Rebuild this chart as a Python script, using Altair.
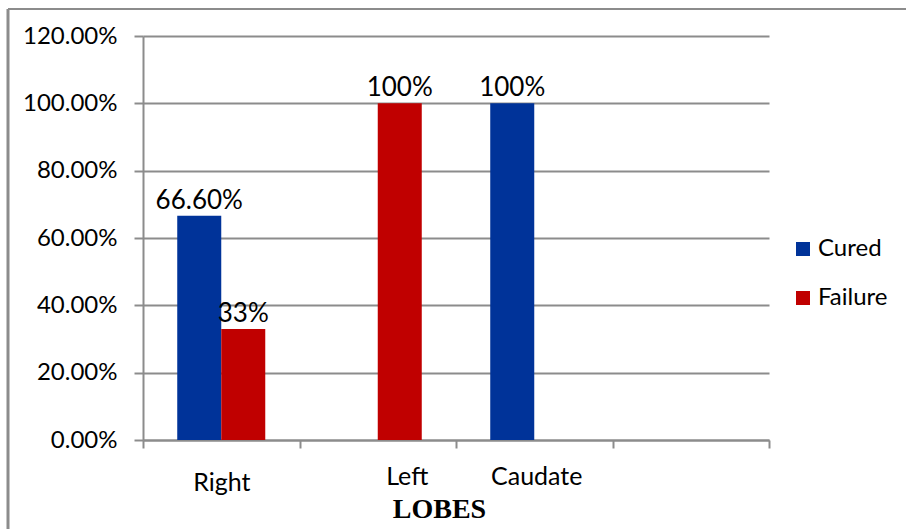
import altair as alt
import pandas as pd

# Outcome by liver lobe (percent of cases)
lobes = ["Right", "Left", "Caudate"]
cured = [66.6, 0, 100]
failure = [33, 100, 0]
cured_labels = ["66.60%", "", "100%"]
failure_labels = ["33%", "100%", ""]
series = ["Cured", "Failure"]
colors = ["#003399", "#C00000"]
y_ticks = [0, 20, 40, 60, 80, 100, 120]

rows = []
for i, lobe in enumerate(lobes):
    rows.append({"lobe": lobe, "outcome": "Cured", "pct": cured[i], "label": cured_labels[i]})
    rows.append({"lobe": lobe, "outcome": "Failure", "pct": failure[i], "label": failure_labels[i]})
df = pd.DataFrame(rows)
df = df[df["pct"] > 0]

# an extra empty slot on the right of the category axis
x_domain = lobes + [" "]

GRAY = "#8c8c8c"
FONT = "Lato"
W, H = 626, 404
PAD = {"left": 143, "top": 36, "right": 906 - 143 - W, "bottom": 529 - 36 - H}

x_enc = alt.X(
    "lobe:N",
    scale=alt.Scale(domain=x_domain, paddingInner=0, paddingOuter=0),
    sort=x_domain,
    title="LOBES",
    axis=alt.Axis(
        tickBand="extent",
        labelAngle=0,
        labelFont=FONT,
        labelFontSize=25,
        labelColor="black",
        labelBaseline="alphabetic",
        labelOffset={"condition": [
            {"test": "datum.value === 'Left'", "value": 29},
            {"test": "datum.value === 'Caudate'", "value": 2},
        ], "value": 0},
        labelPadding={"condition": {"test": "datum.value === 'Right'", "value": 42}, "value": 36},
        domainColor=GRAY,
        domainWidth=2,
        tickColor=GRAY,
        tickWidth=2,
        tickSize=8,
        grid=False,
        titleFont="Liberation Serif",
        titleFontWeight="bold",
        titleFontSize=28,
        titleColor="black",
        titleAlign="center",
        titleBaseline="alphabetic",
        titleX=296,
        titleY=77,
    ),
)
xoff_enc = alt.XOffset(
    "outcome:N",
    scale=alt.Scale(domain=series, paddingInner=0, paddingOuter=0.778),
)
y_enc = alt.Y(
    "pct:Q",
    scale=alt.Scale(domain=[0, 120], nice=False),
    title=None,
    axis=alt.Axis(
        values=y_ticks,
        labelExpr="format(datum.value, '.2f') + '%'",
        labelFont=FONT,
        labelFontSize=24,
        labelColor="black",
        labelPadding=17,
        tickSize=9,
        tickColor=GRAY,
        tickWidth=2,
        domainColor=GRAY,
        domainWidth=2,
        gridColor=GRAY,
        gridWidth=2,
    ),
)

base = alt.Chart(df)

bars = base.mark_bar().encode(
    x=x_enc,
    xOffset=xoff_enc,
    y=y_enc,
    color=alt.Color(
        "outcome:N",
        scale=alt.Scale(domain=series, range=colors),
        legend=alt.Legend(
            orient="none",
            legendX=648,
            legendY=201,
            title=None,
            symbolType="square",
            symbolSize=196,
            symbolStrokeWidth=0,
            labelFont=FONT,
            labelFontSize=24,
            labelColor="black",
            labelOffset=3,
            rowPadding=25,
            padding=0,
        ),
    ),
)

labels = base.mark_text(
    baseline="alphabetic", dy=-7, font=FONT, fontSize=26, color="black"
).encode(
    x=alt.X("lobe:N", sort=x_domain),
    xOffset=alt.XOffset("outcome:N"),
    y=alt.Y("pct:Q"),
    text="label:N",
)

# thin frame around the chart
frame_src = alt.Chart(pd.DataFrame({"k": [0]}))
frame_top = frame_src.mark_rule(color=GRAY, strokeWidth=2).encode(
    x=alt.value(-135), x2=alt.value(900), y=alt.value(-27)
)
frame_left = frame_src.mark_rule(color=GRAY, strokeWidth=3).encode(
    x=alt.value(-135), y=alt.value(-27), y2=alt.value(600)
)

chart = (
    alt.layer(bars, labels, frame_top, frame_left)
    .properties(
        width=W,
        height=H,
        padding=PAD,
        autosize=alt.AutoSizeParams(type="none"),
        background="white",
    )
    .configure_view(strokeWidth=0)
)

chart.save("out.html", embed_options={"renderer": "svg", "actions": False})
